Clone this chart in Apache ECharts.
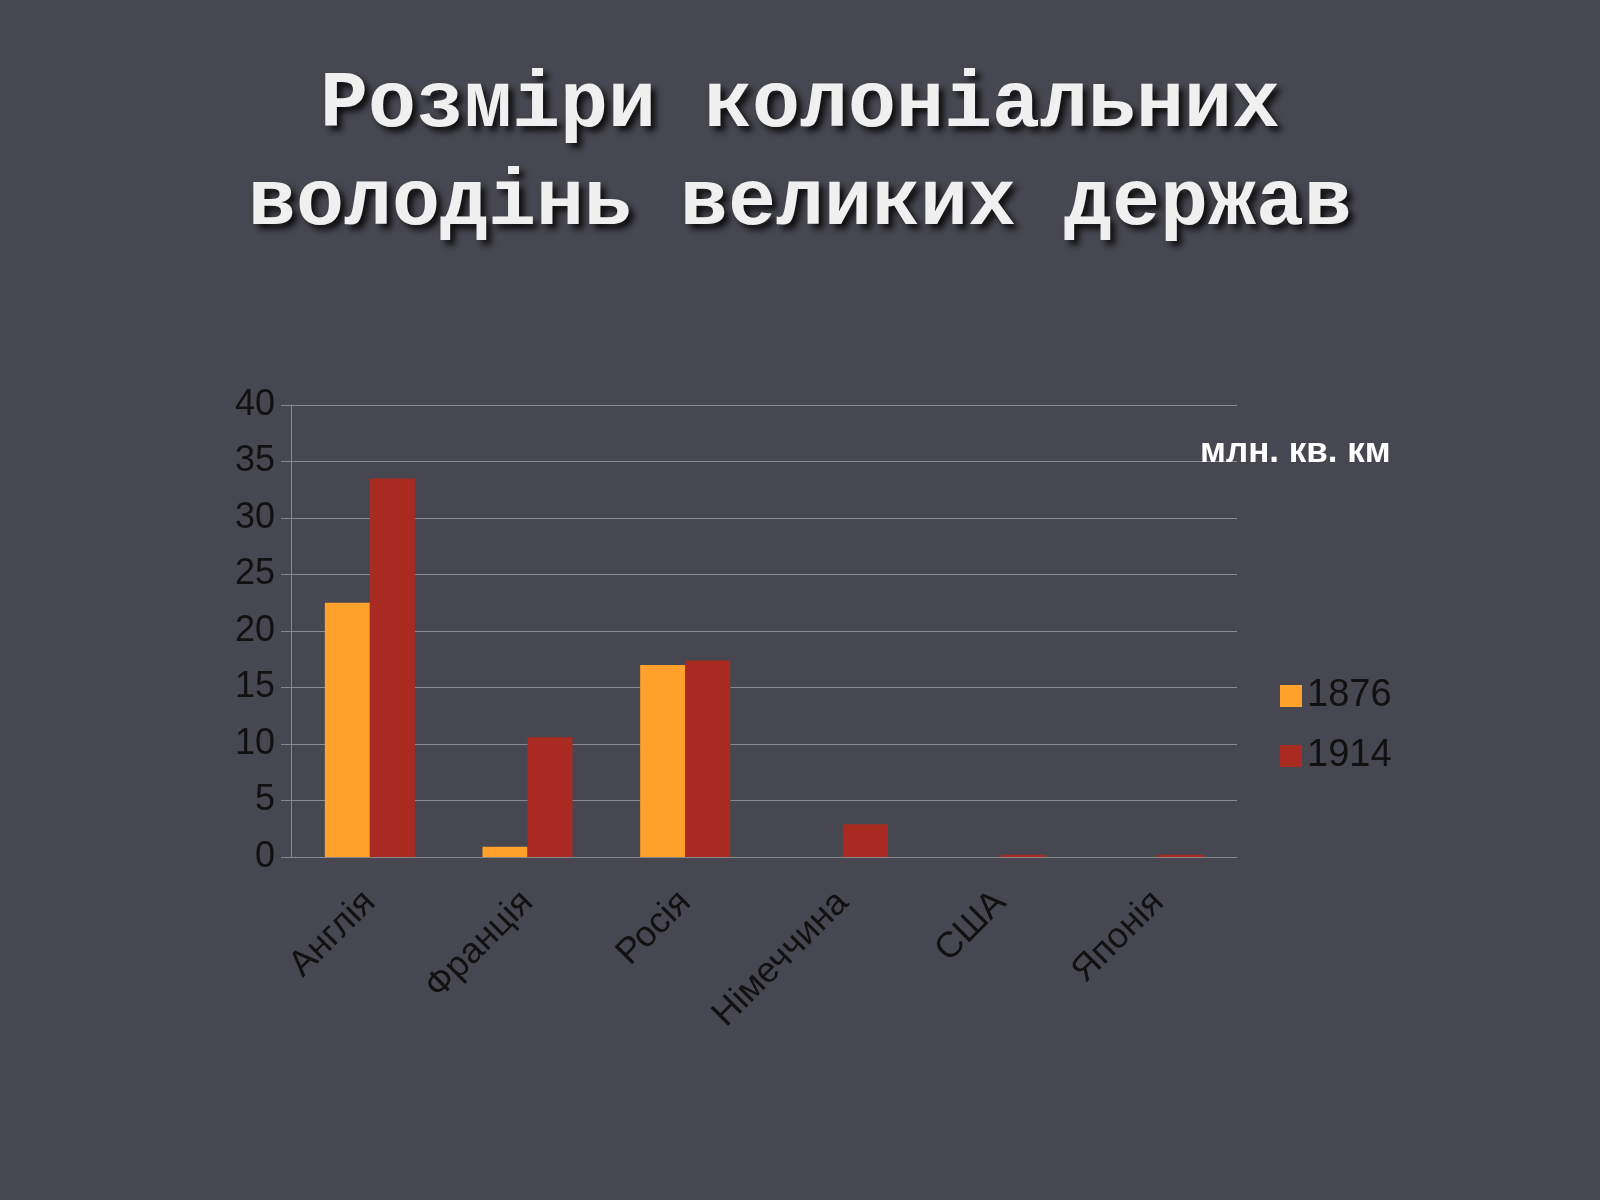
<!DOCTYPE html>
<html><head><meta charset="utf-8">
<script src="https://cdn.jsdelivr.net/npm/echarts@6/dist/echarts.min.js"></script>
<style>html,body{margin:0;background:#474751}#c{width:1600px;height:1200px}</style>
</head><body><div id="c"></div>
<script>
const categories = ['Англія','Франція','Росія','Німеччина','США','Японія'];
const s1876 = [22.5, 0.9, 17.0, 0, 0, 0];
const s1914 = [33.5, 10.6, 17.4, 2.9, 0.2, 0.2];
const yTicks = {min:0, max:40, interval:5};
const chart = echarts.init(document.getElementById('c'));
chart.setOption({
  backgroundColor:'#474751',
  title:[{text:'Розміри колоніальних\nволодінь великих держав',left:'center',top:52,
    textStyle:{fontFamily:'Liberation Mono',fontWeight:'bold',fontSize:80,lineHeight:98,color:'#f0f0f0',
      textShadowColor:'rgba(0,0,0,0.8)',textShadowBlur:6,textShadowOffsetX:5,textShadowOffsetY:5}},
    {text:'млн. кв. км',left:1195,top:430,textStyle:{fontFamily:'Liberation Sans',fontWeight:'bold',fontSize:35,color:'#fff'}}],
  legend:{orient:'vertical',left:1275,top:672,icon:'rect',itemWidth:22,itemHeight:22,itemGap:22,
    textStyle:{fontFamily:'Liberation Sans',fontSize:38,color:'#111'},data:['1876','1914']},
  grid:{left:291,right:363,top:405,bottom:343},
  xAxis:{type:'category',data:categories,
    axisLine:{lineStyle:{color:'#888'}},axisTick:{length:12,lineStyle:{color:'#888'}},
    axisLabel:{rotate:45,fontFamily:'Liberation Sans',fontSize:36,color:'#111',margin:40}},
  yAxis:{type:'value',...yTicks,
    axisLine:{show:true,lineStyle:{color:'#888'}},axisTick:{show:true,length:10,lineStyle:{color:'#888'}},
    splitLine:{lineStyle:{color:'#8a8a92'}},
    axisLabel:{fontFamily:'Liberation Sans',fontSize:36,color:'#111',margin:16}},
  series:[
    {name:'1876',type:'bar',data:s1876,itemStyle:{color:'#ffa12a'},barWidth:45,barGap:'0%'},
    {name:'1914',type:'bar',data:s1914,itemStyle:{color:'#a92a20'},barWidth:45}
  ]
});
</script></body></html>
